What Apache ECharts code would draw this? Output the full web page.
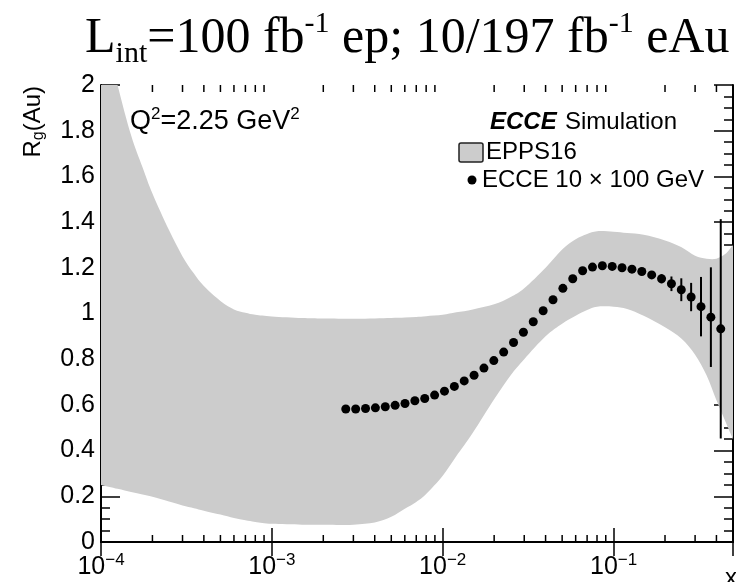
<!DOCTYPE html>
<html>
<head>
<meta charset="utf-8">
<script src="https://cdn.jsdelivr.net/npm/echarts@6/dist/echarts.min.js"></script>
<style>
html, body { margin: 0; padding: 0; background: #fff; }
#main { width: 736px; height: 582px; }
</style>
</head>
<body>
<div id="main"></div>
<script>
// EPPS16 band (x, upper, lower)
var bandX = [1e-4, 1.25e-4, 1.5e-4, 1.75e-4, 2e-4, 2.5e-4, 3e-4, 3.5e-4, 4e-4, 5e-4, 6e-4, 7e-4, 8e-4,
             1e-3, 1.5e-3, 2e-3, 3e-3, 4e-3, 5e-3, 6e-3, 7e-3, 8e-3, 1e-2,
             1.2e-2, 1.5e-2, 2e-2, 2.5e-2, 3e-2, 4e-2, 5e-2, 6e-2, 7e-2, 8e-2,
             0.1, 0.12, 0.15, 0.2, 0.25, 0.3, 0.35, 0.4, 0.45, 0.5];
var bandUpper = [2.30, 2.00, 1.78, 1.64, 1.525, 1.365, 1.25, 1.175, 1.12, 1.055, 1.018, 1.003, 0.994,
                 0.987, 0.98, 0.978, 0.977, 0.978, 0.98, 0.982, 0.985, 0.988, 0.994,
                 1.005, 1.018, 1.04, 1.072, 1.11, 1.20, 1.28, 1.325, 1.348, 1.36,
                 1.358, 1.352, 1.345, 1.32, 1.29, 1.253, 1.24, 1.24, 1.26, 1.30];
var bandLower = [0.25, 0.233, 0.219, 0.208, 0.198, 0.177, 0.16, 0.148, 0.137, 0.12, 0.105, 0.095, 0.088,
                 0.08, 0.076, 0.075, 0.076, 0.085, 0.11, 0.145, 0.175, 0.21, 0.29,
                 0.375, 0.478, 0.625, 0.73, 0.80, 0.90, 0.955, 0.99, 1.015, 1.03,
                 1.03, 1.02, 0.99, 0.94, 0.89, 0.82, 0.73, 0.62, 0.53, 0.45];

// ECCE 10 x 100 GeV pseudo-data
var ecceX = [0.002708, 0.003094, 0.003534, 0.004036, 0.004611, 0.005266, 0.006016, 0.006871, 0.007849, 0.008965,
             0.01024, 0.0117, 0.01336, 0.01526, 0.01743, 0.01991, 0.02274, 0.02598, 0.02967, 0.03388,
             0.03871, 0.04421, 0.0505, 0.05768, 0.06589, 0.07525, 0.08596, 0.09817, 0.1121, 0.1281,
             0.1463, 0.1671, 0.1909, 0.2181, 0.2491, 0.2844, 0.3249, 0.3711, 0.4239];
var ecceY = [0.582, 0.582, 0.584, 0.587, 0.592, 0.598, 0.606, 0.618, 0.628, 0.643,
             0.660, 0.681, 0.705, 0.730, 0.761, 0.794, 0.831, 0.873, 0.918, 0.964,
             1.012, 1.060, 1.110, 1.152, 1.187, 1.203, 1.209, 1.206, 1.200, 1.194,
             1.184, 1.169, 1.152, 1.130, 1.104, 1.072, 1.030, 0.984, 0.933];
var ecceErr = [0.01, 0.01, 0.01, 0.01, 0.01, 0.01, 0.01, 0.01, 0.01, 0.01,
               0.01, 0.01, 0.01, 0.01, 0.01, 0.01, 0.01, 0.01, 0.01, 0.01,
               0.01, 0.01, 0.01, 0.01, 0.01, 0.01, 0.01, 0.01, 0.01, 0.01,
               0.01, 0.012, 0.02, 0.032, 0.05, 0.062, 0.13, 0.218, 0.48];

// minor ticks of the log x axis
var minorTickX = [2e-4, 3e-4, 4e-4, 5e-4, 6e-4, 7e-4, 8e-4, 9e-4,
                  2e-3, 3e-3, 4e-3, 5e-3, 6e-3, 7e-3, 8e-3, 9e-3,
                  0.02, 0.03, 0.04, 0.05, 0.06, 0.07, 0.08, 0.09,
                  0.2, 0.3, 0.4];

var FONT = 'Liberation Sans';
var chart = echarts.init(document.getElementById('main'));

function expLabel(v) {
    var l = Math.log10(v);
    var e = Math.round(l);
    if (Math.abs(l - e) > 1e-6) return '';
    return '{b|10}{s|' + (e < 0 ? '\u2212' : '') + Math.abs(e) + '}';
}

// catmull-rom through pixel points -> cubic bezier path commands
function curveCmds(p) {
    var s = '';
    for (var i = 0; i < p.length - 1; i++) {
        var p0 = p[Math.max(i - 1, 0)], p1 = p[i], p2 = p[i + 1], p3 = p[Math.min(i + 2, p.length - 1)];
        var c1x = p1[0] + (p2[0] - p0[0]) / 6, c1y = p1[1] + (p2[1] - p0[1]) / 6;
        var c2x = p2[0] - (p3[0] - p1[0]) / 6, c2y = p2[1] - (p3[1] - p1[1]) / 6;
        s += ' C' + c1x + ',' + c1y + ' ' + c2x + ',' + c2y + ' ' + p2[0] + ',' + p2[1];
    }
    return s;
}

var band = bandX.map(function (x, i) { return [x, bandLower[i], bandUpper[i]]; });
var points = ecceX.map(function (x, i) { return [x, ecceY[i]]; });
var errBars = ecceX.map(function (x, i) { return [x, ecceY[i] - ecceErr[i], ecceY[i] + ecceErr[i]]; });

var xAxisBase = {
    type: 'log',
    logBase: 10,
    min: 1e-4,
    max: 0.5,
    axisLine: { lineStyle: { color: '#000', width: 2 } },
    axisTick: { inside: true, length: 14, lineStyle: { color: '#000', width: 1.5 } },
    splitLine: { show: false }
};
var yAxisBase = {
    type: 'value',
    min: 0,
    max: 2,
    interval: 0.2,
    axisLine: { show: true, lineStyle: { color: '#000', width: 2 } },
    axisTick: { show: true, inside: true, length: 19, lineStyle: { color: '#000', width: 1.5 } },
    minorTick: { show: true, splitNumber: 4, length: 9, lineStyle: { color: '#000', width: 1.5 } },
    splitLine: { show: false }
};

var option = {
    animation: false,
    title: {
        left: 80,
        top: 4,
        text: '{n|L}{sub|int}{n|=100 fb}{sup|-1}{n| ep; 10/197 fb}{sup|-1}{n| eAu}',
        textStyle: {
            fontWeight: 'normal',
            rich: {
                n: { fontFamily: 'Liberation Serif', fontSize: 50, fontWeight: 'normal', color: '#000', lineHeight: 60 },
                sub: { fontFamily: 'Liberation Serif', fontSize: 30, fontWeight: 'normal', color: '#000', verticalAlign: 'bottom', lineHeight: 42 },
                sup: { fontFamily: 'Liberation Serif', fontSize: 30, fontWeight: 'normal', color: '#000', verticalAlign: 'top', lineHeight: 38 }
            }
        }
    },
    grid: { left: 101, top: 85, right: 2, bottom: 40 },
    xAxis: [
        echarts.util.merge({
            position: 'bottom',
            axisLabel: {
                margin: 10,
                formatter: expLabel,
                rich: {
                    b: { fontFamily: FONT, fontSize: 25, color: '#000', lineHeight: 30 },
                    s: { fontFamily: FONT, fontSize: 17, color: '#000', verticalAlign: 'top', lineHeight: 22 }
                }
            }
        }, xAxisBase),
        echarts.util.merge({ position: 'top', axisLabel: { show: false } }, xAxisBase)
    ],
    yAxis: [
        echarts.util.merge({
            position: 'left',
            axisLabel: { fontFamily: FONT, fontSize: 25, color: '#000', margin: 6 }
        }, yAxisBase),
        echarts.util.merge({ position: 'right', axisLabel: { show: false } }, yAxisBase)
    ],
    series: [
        {
            name: 'EPPS16',
            type: 'custom',
            data: band,
            encode: { x: 0, y: [1, 2] },
            clip: true,
            silent: true,
            renderItem: function (params, api) {
                // whole band as one smooth closed path, drawn once
                if (params.dataIndex !== 0) return null;
                var up = band.map(function (d) { return api.coord([d[0], d[2]]); });
                var lo = band.map(function (d) { return api.coord([d[0], d[1]]); }).reverse();
                var d = 'M' + up[0][0] + ',' + up[0][1] + curveCmds(up) +
                        ' L' + lo[0][0] + ',' + lo[0][1] + curveCmds(lo) + ' Z';
                return {
                    type: 'path',
                    shape: { pathData: d },
                    style: { fill: '#cccccc', stroke: null }
                };
            },
            z: 1
        },
        {
            name: 'errors',
            type: 'custom',
            data: errBars,
            encode: { x: 0, y: [1, 2] },
            renderItem: function (params, api) {
                var hi = api.coord([api.value(0), api.value(2)]);
                var lo = api.coord([api.value(0), api.value(1)]);
                return {
                    type: 'line',
                    shape: { x1: hi[0], y1: hi[1], x2: lo[0], y2: lo[1] },
                    style: { stroke: '#000', lineWidth: 2 }
                };
            },
            z: 3
        },
        {
            name: 'ECCE 10 x 100 GeV',
            type: 'scatter',
            data: points,
            symbol: 'circle',
            symbolSize: 9,
            itemStyle: { color: '#000', opacity: 1 },
            z: 4
        },
        {
            name: 'minor ticks',
            type: 'custom',
            data: minorTickX.map(function (x) { return [x, 0]; }),
            encode: { x: 0, y: 1 },
            clip: false,
            silent: true,
            renderItem: function (params, api) {
                var p = api.coord([api.value(0), 0]);
                var cs = params.coordSys;
                var top = cs.y, bot = cs.y + cs.height;
                return {
                    type: 'group',
                    children: [
                        { type: 'line', shape: { x1: p[0], y1: bot, x2: p[0], y2: bot - 7 }, style: { stroke: '#000', lineWidth: 1.5 } },
                        { type: 'line', shape: { x1: p[0], y1: top, x2: p[0], y2: top + 7 }, style: { stroke: '#000', lineWidth: 1.5 } }
                    ]
                };
            },
            z: 5
        }
    ],
    graphic: [
        {
            type: 'text',
            x: 33, y: 86,
            z: 100,
            rotation: Math.PI / 2,
            style: {
                text: '{r|R}{g|g}{r|(Au)}',
                align: 'right',
                verticalAlign: 'middle',
                rich: {
                    r: { fontFamily: FONT, fontSize: 24, fill: '#000', lineHeight: 28 },
                    g: { fontFamily: FONT, fontSize: 16, fill: '#000', verticalAlign: 'bottom', lineHeight: 24 }
                }
            }
        },
        {
            type: 'text',
            x: 130, y: 122,
            z: 100,
            style: {
                text: '{n|Q}{s|2}{n|=2.25 GeV}{s|2}',
                verticalAlign: 'middle',
                rich: {
                    n: { fontFamily: FONT, fontSize: 27, fill: '#000', lineHeight: 32 },
                    s: { fontFamily: FONT, fontSize: 17, fill: '#000', verticalAlign: 'top', lineHeight: 24 }
                }
            }
        },
        {
            type: 'text',
            x: 490, y: 122,
            z: 100,
            style: {
                text: '{b|ECCE} {n|Simulation}',
                verticalAlign: 'middle',
                rich: {
                    b: { fontFamily: FONT, fontSize: 24, fontWeight: 'bold', fontStyle: 'italic', fill: '#000' },
                    n: { fontFamily: FONT, fontSize: 24, fill: '#000', padding: [0, 0, 0, 5] }
                }
            }
        },
        {
            type: 'rect',
            z: 100,
            shape: { x: 459, y: 143, width: 24, height: 19, r: 2 },
            style: { fill: '#cccccc', stroke: '#222', lineWidth: 1.5 }
        },
        {
            type: 'text',
            x: 486, y: 152,
            z: 100,
            style: { text: 'EPPS16', font: '24px "Liberation Sans"', fill: '#000', verticalAlign: 'middle' }
        },
        {
            type: 'circle',
            z: 100,
            shape: { cx: 472, cy: 180, r: 4.5 },
            style: { fill: '#000' }
        },
        {
            type: 'text',
            x: 482, y: 180,
            z: 100,
            style: { text: 'ECCE 10 \u00d7 100 GeV', font: '24px "Liberation Sans"', fill: '#000', verticalAlign: 'middle' }
        },
        {
            type: 'text',
            x: 731, y: 566,
            z: 100,
            style: { text: 'x', font: '24px "Liberation Sans"', fill: '#000', align: 'center', verticalAlign: 'top' }
        }
    ]
};

chart.setOption(option);
</script>
</body>
</html>
